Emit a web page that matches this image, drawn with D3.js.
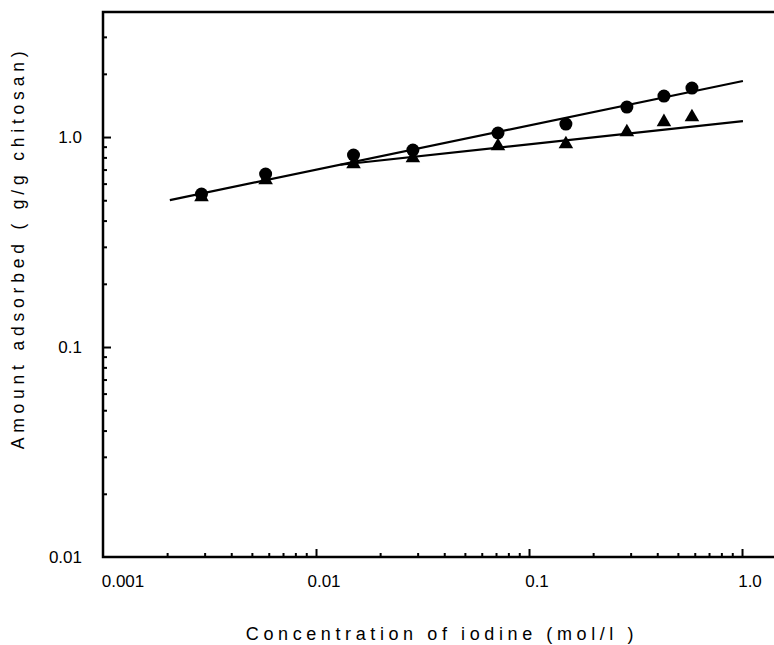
<!DOCTYPE html>
<html>
<head>
<meta charset="utf-8">
<script src="https://cdn.jsdelivr.net/npm/d3@7"></script>
<style>
  body { margin: 0; background: #fff; }
  text { font-family: "Liberation Sans", Arial, sans-serif; fill: #000; }
</style>
</head>
<body>
<div id="chart"></div>
<script>
// measured values (log-log isotherm)
var conc      = [0.0029, 0.0058, 0.015, 0.0285, 0.0715, 0.149, 0.288, 0.43, 0.582];
var circles   = [0.535, 0.667, 0.821, 0.867, 1.045, 1.153, 1.389, 1.567, 1.71];
var triangles = [0.518, 0.624, 0.744, 0.794, 0.906, 0.926, 1.056, 1.179, 1.245];

// fitted lines, end points
var fitCircleX = [0.00206, 1.01];
var fitCircleY = [0.501, 1.848];
var fitTriX    = [0.013, 1.01];
var fitTriY    = [0.738, 1.19];

var xLabels = ["0.001", "0.01", "0.1", "1.0"];
var yLabels = ["0.01", "0.1", "1.0"];

var width = 774, height = 645;
var padL = 103, padR = 774, padT = 12, padB = 557;

var svg = d3.select("#chart")
    .append("svg")
    .attr("width", width)
    .attr("height", height);

var x = d3.scaleLog().domain([0.001, 1.413]).range([padL, padR]);
var y = d3.scaleLog().domain([0.01, 3.94]).range([padB, padT]);

// minor + major tick positions
var xTicks = [];
[0.001, 0.01, 0.1, 1].forEach(function(d) {
    for (var k = 1; k <= 9; k++) {
        var v = d * k;
        if (v > 0.001 && v <= 1.4) xTicks.push(v);
    }
});
var yTicks = [];
[0.01, 0.1, 1].forEach(function(d) {
    for (var k = 1; k <= 9; k++) {
        var v = d * k;
        if (v > 0.01 && v <= 3.5) yTicks.push(v);
    }
});
function isMajor(v) {
    var l = Math.log10(v);
    return Math.abs(l - Math.round(l)) < 1e-6;
}

var xAxis = svg.append("g")
    .attr("transform", "translate(0," + padB + ")")
    .call(d3.axisBottom(x).tickValues(xTicks).tickSize(-4).tickFormat(""));
var yAxis = svg.append("g")
    .attr("transform", "translate(" + padL + ",0)")
    .call(d3.axisLeft(y).tickValues(yTicks).tickSize(-4).tickFormat(""));

[xAxis, yAxis].forEach(function(g) {
    g.select(".domain").remove();
    g.selectAll(".tick line")
        .attr("stroke", "#000")
        .attr("stroke-width", 2);
});
xAxis.selectAll(".tick line").attr("y2", function(d) { return isMajor(d) ? -8 : -4; });
yAxis.selectAll(".tick line").attr("x2", function(d) { return isMajor(d) ? 8 : 4; });

// frame: left, bottom, top (no right side)
svg.append("path")
    .attr("d", "M" + padR + "," + padT + "H" + padL + "V" + padB + "H" + padR)
    .attr("fill", "none")
    .attr("stroke", "#000")
    .attr("stroke-width", 2.5);

// tick labels
svg.selectAll(".xlab")
    .data(xLabels)
    .enter()
    .append("text")
    .attr("x", function(d) { return x(+d) + (+d === 0.001 ? 20 : 8); })
    .attr("y", 587)
    .style("text-anchor", "middle")
    .style("font-size", "17px")
    .text(function(d) { return d; });

svg.selectAll(".ylab")
    .data(yLabels)
    .enter()
    .append("text")
    .attr("x", 82)
    .attr("y", function(d) { return y(+d) + 6; })
    .style("text-anchor", "end")
    .style("font-size", "17px")
    .text(function(d) { return d; });

// axis titles
svg.append("text")
    .attr("x", 442)
    .attr("y", 640)
    .style("text-anchor", "middle")
    .style("font-size", "18px")
    .style("letter-spacing", "4.6px")
    .text("Concentration of iodine (mol/l )");

svg.append("text")
    .attr("transform", "translate(24,248) rotate(-90)")
    .style("text-anchor", "middle")
    .style("font-size", "17.5px")
    .style("letter-spacing", "4.8px")
    .text("Amount adsorbed ( g/g chitosan)");

// fitted lines
var line = d3.line()
    .x(function(d) { return x(d[0]); })
    .y(function(d) { return y(d[1]); });

svg.append("path")
    .attr("d", line(d3.zip(fitCircleX, fitCircleY)))
    .attr("fill", "none")
    .attr("stroke", "#000")
    .attr("stroke-width", 2.2);
svg.append("path")
    .attr("d", line(d3.zip(fitTriX, fitTriY)))
    .attr("fill", "none")
    .attr("stroke", "#000")
    .attr("stroke-width", 2.2);

// triangles
svg.selectAll(".tri")
    .data(d3.zip(conc, triangles))
    .enter()
    .append("path")
    .attr("d", d3.symbol().type(d3.symbolTriangle).size(92))
    .attr("transform", function(d) {
        return "translate(" + x(d[0]) + "," + y(d[1]) + ")";
    })
    .attr("fill", "#000");

// circles
svg.selectAll(".dot")
    .data(d3.zip(conc, circles))
    .enter()
    .append("circle")
    .attr("cx", function(d) { return x(d[0]); })
    .attr("cy", function(d) { return y(d[1]); })
    .attr("r", 6.5)
    .attr("fill", "#000");
</script>
</body>
</html>
